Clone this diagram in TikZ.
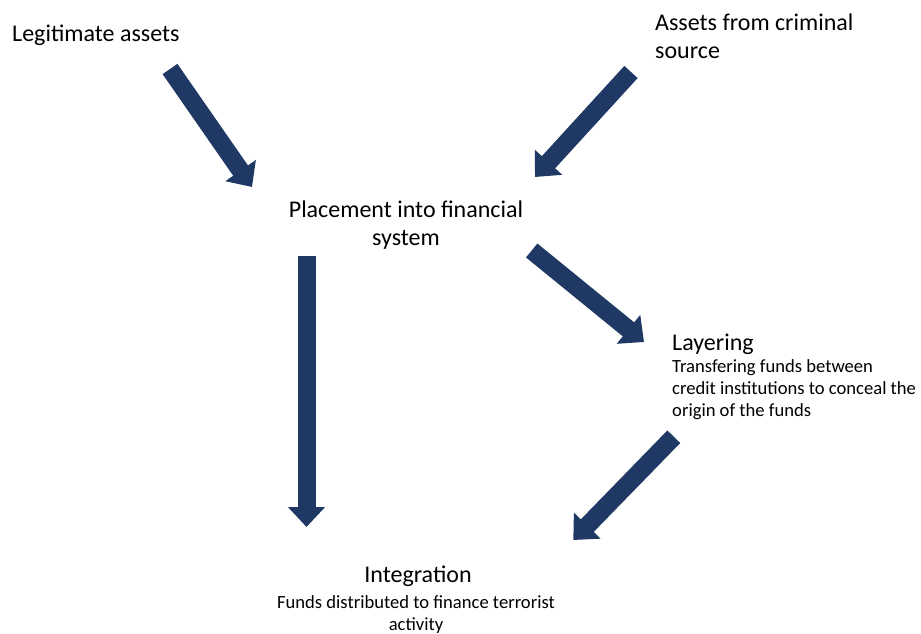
\documentclass[tikz,border=0pt]{standalone}
\usepackage{fontspec}
\setmainfont{Carlito}
\usetikzlibrary{arrows.meta}
\definecolor{flowblue}{RGB}{31,56,100}
\tikzset{
  flowarrow/.style={draw=flowblue, line width=18pt,
    -{Triangle[width=36pt,length=20pt]}},
  bigtext/.style={inner sep=0pt, font=\fontsize{24}{28}\selectfont},
  smalltext/.style={inner sep=0pt, font=\fontsize{18.6}{22}\selectfont},
}
\begin{document}
\begin{tikzpicture}[x=1pt, y=-1pt]
\useasboundingbox (0,0) rectangle (921,634);

% stage labels
\node[bigtext, anchor=west] (legit) at (12,35) {Legitimate assets};
\node[bigtext, anchor=west, align=left] (criminal) at (655,36) {Assets from criminal\\source};
\node[bigtext, align=center] (placement) at (406,225) {Placement into financial\\system};
\node[bigtext, anchor=west] (layering) at (672,344) {Layering};
\node[smalltext, anchor=west, align=left] (layerdesc) at (672,390)
  {Transfering funds between\\credit institutions to conceal the\\origin of the funds};
\node[bigtext] (integration) at (418,576) {Integration};
\node[smalltext, align=center] (integdesc) at (416,615)
  {Funds distributed to finance terrorist\\activity};

% arrow end points
\coordinate (a1s) at (170,69);    \coordinate (a1e) at (252,187);
\coordinate (a2s) at (631,72);    \coordinate (a2e) at (535,177);
\coordinate (a3s) at (306.5,256); \coordinate (a3e) at (306.5,527);
\coordinate (a4s) at (531.7,250.5); \coordinate (a4e) at (644,342);
\coordinate (a5s) at (673.8,436.7); \coordinate (a5e) at (573.3,540);

% flow arrows
\draw[flowarrow] (a1s) -- (a1e);
\draw[flowarrow] (a2s) -- (a2e);
\draw[flowarrow] (a3s) -- (a3e);
\draw[flowarrow] (a4s) -- (a4e);
\draw[flowarrow] (a5s) -- (a5e);
\end{tikzpicture}
\end{document}
